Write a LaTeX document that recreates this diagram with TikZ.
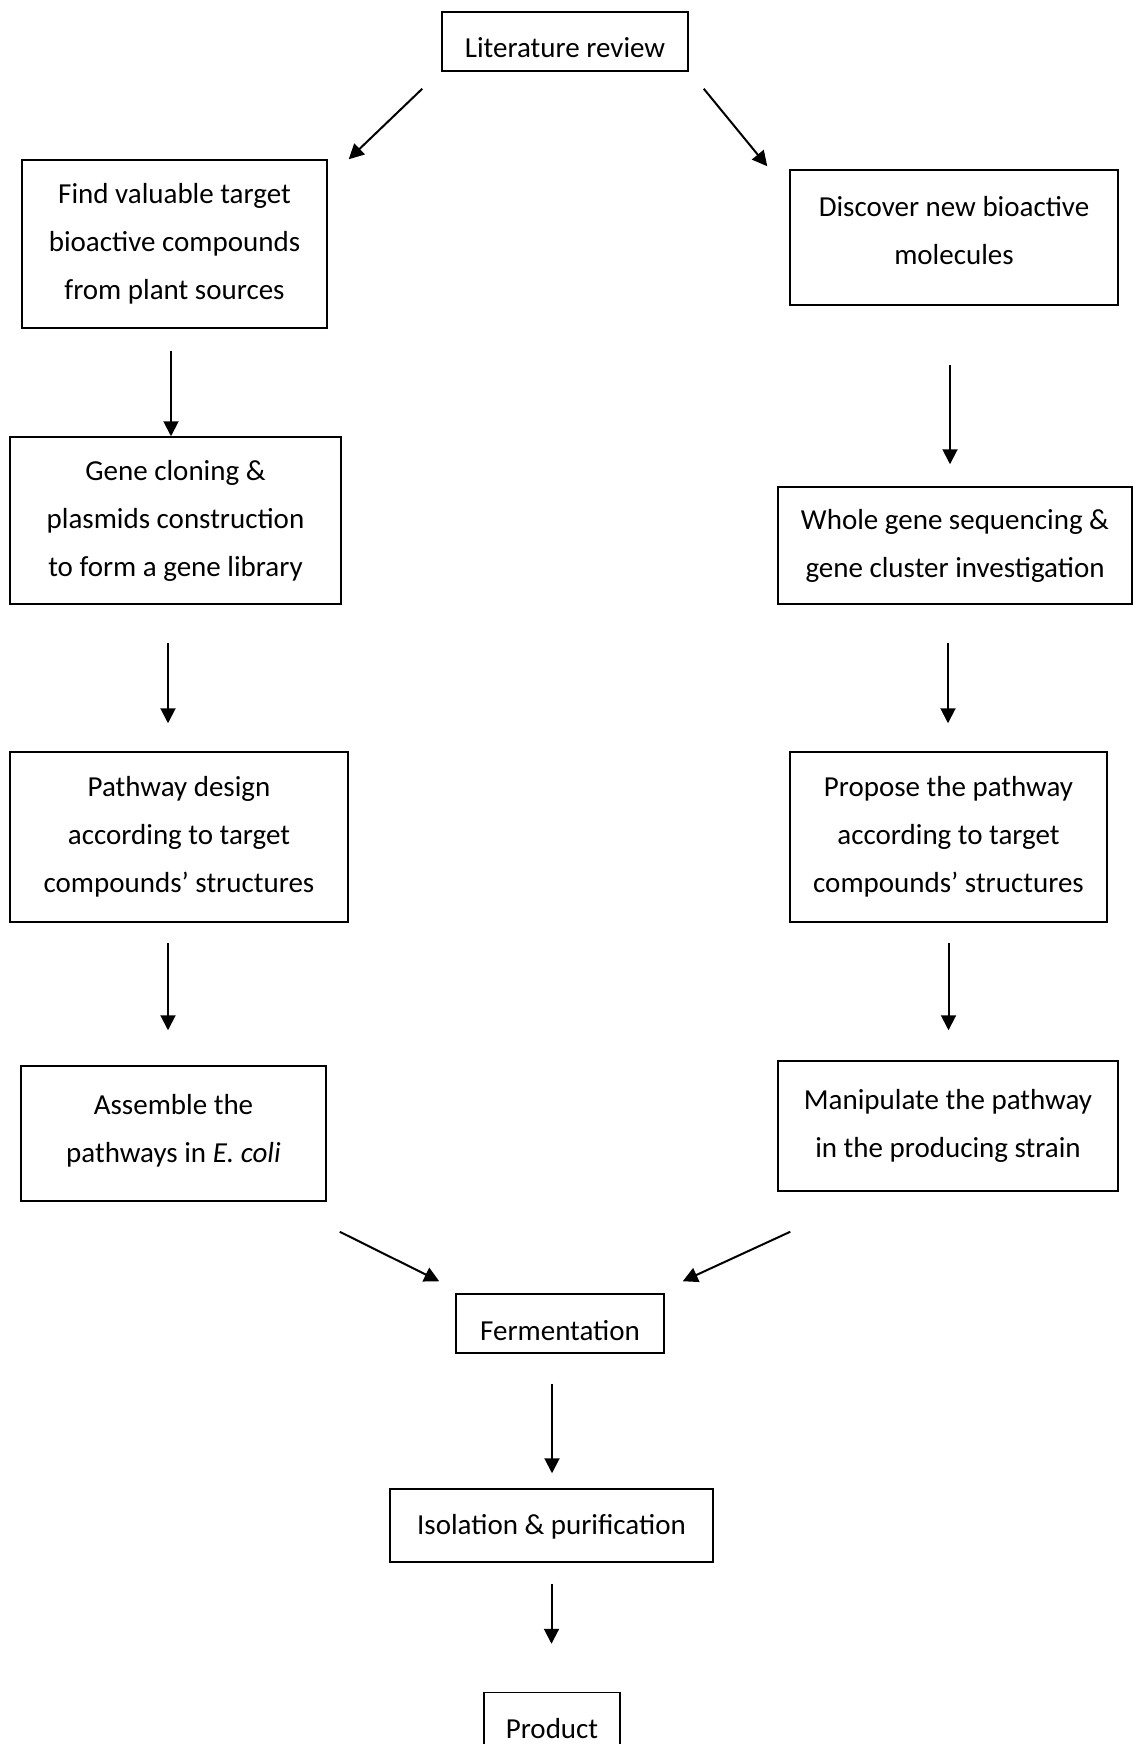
\documentclass[tikz,border=0pt]{standalone}
\usepackage{fontspec}
\setmainfont{Carlito}
\usepackage{tikz}
\usetikzlibrary{arrows.meta,calc}

\begin{document}
\begin{tikzpicture}[x=1pt,y=1pt,
      box/.style={draw,line width=0.75pt,align=center,inner sep=0pt,
        font=\fontsize{14.5}{24}\selectfont},
      sz/.style 2 args={minimum width=#1pt,minimum height=#2pt},
      oneline/.style={text height=#1pt,text depth=0pt},
      arr/.style={-{Triangle[length=7.5pt,width=7.5pt]},line width=1pt}]
    \path[use as bounding box,clip] (0,0) rectangle (569,-872);
    % top
    \node[box,oneline=15.8,sz={123}{29.5}] (lit) at (282.5,-20.75) {Literature review};
    % left branch
    \node[box,sz={152.5}{84}] (find) at (87.25,-122) {Find valuable target\\bioactive compounds\\from plant sources};
    \node[box,sz={165.5}{83.5}] (gene) at (87.75,-260.25) {Gene cloning \&\\plasmids construction\\to form a gene library};
    \node[box,sz={169}{85}] (design) at (89.5,-418.5) {Pathway design\\according to target\\compounds’ structures};
    \node[box,sz={152.5}{67.5}] (assemble) at (86.75,-566.75) {Assemble the\\pathways in \textit{E. coli}\\[-19pt]\mbox{}};
    % right branch
    \node[box,sz={164}{67.5}] (disc) at (477,-118.75) {Discover new bioactive\\molecules\\[-17pt]\mbox{}};
    \node[box,sz={177}{58.5}] (whole) at (477.5,-272.75) {Whole gene sequencing \&\\gene cluster investigation};
    \node[box,sz={158.5}{85}] (propose) at (474.25,-418.5) {Propose the pathway\\according to target\\compounds’ structures};
    \node[box,sz={170}{65}] (manip) at (474,-563) {Manipulate the pathway\\in the producing strain};
    % bottom
    \node[box,oneline=16.8,sz={104}{29.5}] (ferm) at (280,-661.75) {Fermentation};
    \node[box,oneline=9.4,sz={161.5}{36.5}] (iso) at (275.75,-762.75) {Isolation \& purification};
    \node[box,oneline=16.8,sz={68}{29.5}] (prod) at (276,-861) {Product};
    % split
    \draw[arr] ($(lit.south west)+(-9.5,-8.5)$) -- ($(find.north east)+(10.5,0)$);
    \draw[arr] ($(lit.south east)+(7.5,-8.5)$) -- ($(disc.north west)+(-11,1.5)$);
    % left column
    \draw[arr] ($(find.south)+(-1.75,-11)$) coordinate (s) -- (s |- gene.north);
    \draw[arr] ($(gene.south)+(-3.75,-19)$) coordinate (s) -- ($(s |- design.north)+(0,14)$);
    \draw[arr] ($(design.south)+(-5.5,-10)$) coordinate (s) -- ($(s |- assemble.north)+(0,17.5)$);
    % right column
    \draw[arr] ($(disc.south)+(-2,-29.5)$) coordinate (s) -- ($(s |- whole.north)+(0,11)$);
    \draw[arr] ($(whole.south)+(-3.5,-19)$) coordinate (s) -- ($(s |- propose.north)+(0,14)$);
    \draw[arr] ($(propose.south)+(0,-10)$) coordinate (s) -- ($(s |- manip.north)+(0,15)$);
    % merge
    \draw[arr] ($(assemble.south east)+(6.5,-15)$) -- ($(ferm.north west)+(-8,6)$);
    \draw[arr] ($(manip.south west)+(6.5,-20)$) -- ($(ferm.north east)+(9,6)$);
    \draw[arr] ($(ferm.south)+(-4,-15)$) coordinate (s) -- ($(s |- iso.north)+(0,7.5)$);
    \draw[arr] ($(iso.south)+(0,-10.5)$) coordinate (s) -- ($(s |- prod.north)+(0,24)$);
  \end{tikzpicture}
\end{document}
